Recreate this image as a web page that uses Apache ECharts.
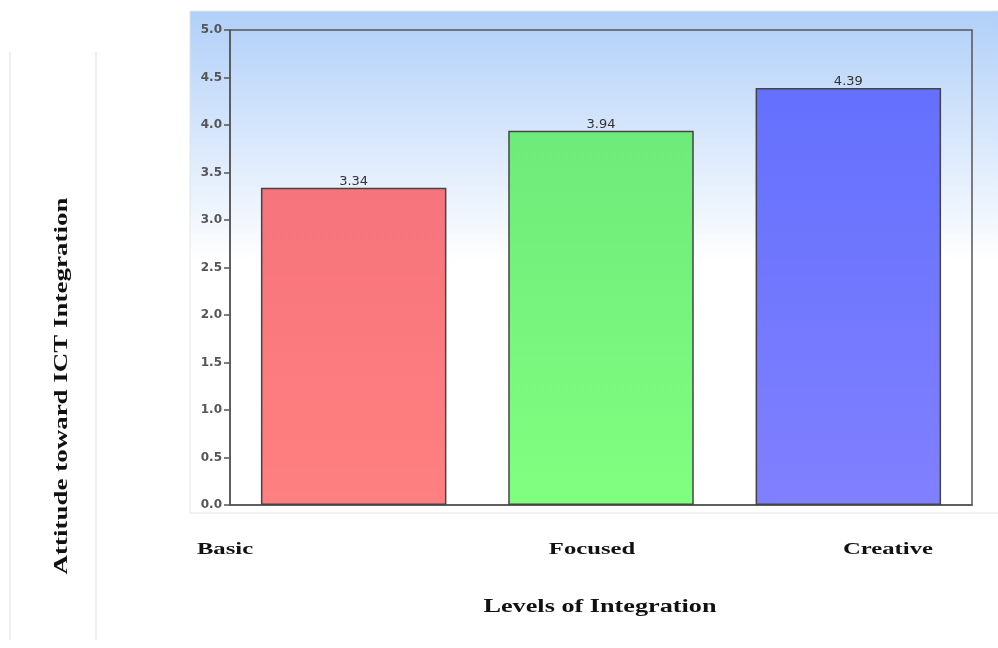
<!DOCTYPE html>
<html>
<head>
<meta charset="utf-8">
<script src="https://cdn.jsdelivr.net/npm/echarts@6/dist/echarts.min.js"></script>
<style>html,body{margin:0;padding:0;background:#fff;}#c{width:998px;height:648px;}</style>
</head>
<body>
<div id="c"></div>
<script>
const categories = ['Basic', 'Focused', 'Creative'];
const values = [3.34, 3.94, 4.39];
const yTicks = [0, 0.5, 1.0, 1.5, 2.0, 2.5, 3.0, 3.5, 4.0, 4.5, 5.0];
const xTitle = 'Levels of Integration';
const yTitle = 'Attitude toward ICT Integration';

const barColors = [
  ['#f6747c', '#ff8080'],
  ['#6eea7a', '#80ff80'],
  ['#6470fd', '#8080ff']
];
const labelX = [225, 592, 888];

const chart = echarts.init(document.getElementById('c'), null, {renderer: 'canvas'});
const serif = '"Liberation Serif", "DejaVu Serif", serif';
const graphics = [
  {type: 'rect', z: -10, shape: {x: 190, y: 11, width: 820, height: 502},
   style: {fill: new echarts.graphic.LinearGradient(0, 0, 0, 1, [
     {offset: 0, color: '#b0cff8'}, {offset: 0.5, color: '#ffffff'}, {offset: 1, color: '#ffffff'}]),
     stroke: '#e4e4e4', lineWidth: 1}},
  {type: 'line', z: -10, shape: {x1: 10, y1: 52, x2: 10, y2: 640}, style: {stroke: '#eeeeee', lineWidth: 2}},
  {type: 'line', z: -10, shape: {x1: 96, y1: 52, x2: 96, y2: 640}, style: {stroke: '#eeeeee', lineWidth: 2}},
  {type: 'text', x: 62, y: 386, rotation: Math.PI / 2, scaleX: 1.42,
   style: {text: yTitle, font: 'bold 19px ' + serif, fill: '#111', align: 'center', verticalAlign: 'middle'}},
  {type: 'text', x: 600, y: 607, scaleX: 1.38,
   style: {text: xTitle, font: 'bold 19px ' + serif, fill: '#111', align: 'center', verticalAlign: 'middle'}}
];
categories.forEach((c, i) => {
  graphics.push({type: 'text', x: labelX[i], y: 550, scaleX: 1.45,
    style: {text: c, font: 'bold 17px ' + serif, fill: '#111', align: 'center', verticalAlign: 'middle'}});
});

chart.setOption({
  animation: false,
  grid: {left: 230, right: 26, top: 30, bottom: 143, show: true, borderColor: '#555', borderWidth: 1.5, backgroundColor: 'transparent'},
  xAxis: {
    type: 'category', data: categories,
    axisLine: {lineStyle: {color: '#555', width: 1.5}},
    axisTick: {alignWithLabel: true, length: 3, lineStyle: {color: '#555', width: 2}},
    axisLabel: {show: false}
  },
  yAxis: {
    type: 'value', min: 0, max: 5, interval: 0.5,
    axisLine: {show: true, lineStyle: {color: '#555', width: 1.5}},
    axisTick: {show: true, length: 6, lineStyle: {color: '#555', width: 1.5}},
    splitLine: {show: false},
    axisLabel: {color: '#555', fontSize: 12, fontWeight: 'bold', fontFamily: 'DejaVu Sans', margin: 8,
      formatter: v => v.toFixed(1)}
  },
  series: [{
    type: 'bar', barWidth: '75%',
    data: values.map((v, i) => ({value: v, itemStyle: {
      color: new echarts.graphic.LinearGradient(0, 0, 0, 1, [{offset: 0, color: barColors[i][0]}, {offset: 1, color: barColors[i][1]}]),
      borderColor: '#444', borderWidth: 1.5}})),
    label: {show: true, position: 'top', distance: 0, color: '#333', fontSize: 13, fontFamily: 'DejaVu Sans',
      formatter: p => p.value.toFixed(2)}
  }],
  graphic: graphics
});
</script>
</body>
</html>
